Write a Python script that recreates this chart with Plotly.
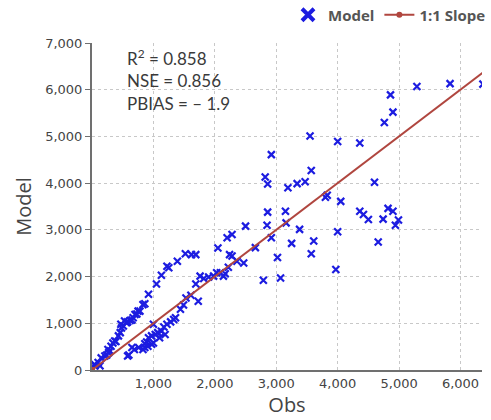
import plotly.graph_objects as go

obs = [40, 100, 130, 50, 150, 210, 240, 270, 290, 260, 310, 340, 370, 390, 430, 460, 480, 510, 470, 530,
       560, 580, 620, 650, 670, 700, 730, 750, 780, 830, 860, 920, 1050, 1130, 1220, 1250, 1390, 1520, 1620, 1690,
       580, 600, 650, 690, 760, 830, 860, 860, 890, 910, 970, 1000, 920, 970, 1030, 1070, 1130, 1100, 1190, 1170,
       1220, 1280, 1330, 1360, 1440, 1490, 1530, 1610, 1730, 1690, 1760, 1820, 1900, 1980, 2030, 2090, 2170, 2140,
       2220, 1000, 2050, 2200, 2280, 2240, 2280, 2360, 2470,
       2500, 2660, 2790, 2820, 2860, 2860, 2850, 2920, 2920, 3020, 3070, 3150, 3160, 3190, 3250, 3340, 3380, 3470,
       3550, 3570, 3570, 3610, 3800, 3830, 3970, 4000, 4000, 4050, 4360, 4360, 4420, 4500, 4600, 4660, 4740, 4760,
       4820, 4860, 4900, 4900, 4940, 4990, 5290, 5830, 6365]
model = [120, 160, 90, 90, 260, 300, 320, 370, 410, 440, 510, 580, 620, 610, 730, 800, 900, 940, 980, 1050,
         1010, 1030, 1060, 1070, 1120, 1190, 1200, 1260, 1260, 1400, 1420, 1620, 1840, 2030, 2220, 2190, 2330, 2490, 2470, 2470,
         300, 320, 480, 440, 480, 440, 480, 560, 600, 510, 550, 580, 690, 730, 760, 800, 830, 690, 760, 920,
         980, 1030, 1080, 1120, 1300, 1390, 1540, 1600, 1470, 1840, 2010, 1960, 1990, 2010, 2080, 2080, 2060, 2010,
         2200, 980, 2610, 2830, 2900, 2470, 2440, 2330, 2290,
         3080, 2620, 1920, 4130, 3980, 3380, 3100, 4610, 2830, 2410, 1970, 3400, 3150, 3900, 2710, 3990, 3010, 4030,
         5010, 4270, 2490, 2760, 3700, 3740, 2150, 4890, 2960, 3610, 4860, 3400, 3330, 3220, 4020, 2740, 3230, 5300,
         3460, 5890, 5520, 3400, 3100, 3210, 6070, 6130, 6120]

slope_x = [0, 6420]
slope_y = [0, 6420]

x_ticks = [1000, 2000, 3000, 4000, 5000, 6000]
y_ticks = [0, 1000, 2000, 3000, 4000, 5000, 6000, 7000]

stats_lines = ["R<sup>2</sup> = 0.858", "NSE = 0.856", "PBIAS = \u2013 1.9"]

BLUE = "#1c1ce0"
RED = "#b0463f"

fig = go.Figure()
fig.add_trace(go.Scatter(
    x=obs, y=model, mode="markers", name="Model", showlegend=False,
    marker=dict(symbol="x-thin", size=7, line=dict(color=BLUE, width=2.2), color=BLUE),
))
fig.add_trace(go.Scatter(
    x=slope_x, y=slope_y, mode="lines+markers", name="1:1 Slope", showlegend=False,
    line=dict(color=RED, width=2), marker=dict(symbol="square", size=6, color=RED),
))
# legend entries
fig.add_trace(go.Scatter(
    x=[None], y=[None], mode="markers", name="Model",
    marker=dict(symbol="x-thin", size=12, line=dict(color=BLUE, width=4), color=BLUE),
))
fig.add_trace(go.Scatter(
    x=[None], y=[None], mode="lines+markers", name="1:1 Slope",
    line=dict(color=RED, width=2), marker=dict(symbol="circle", size=6, color=RED),
))

ys = [0.955, 0.885, 0.815]
for t, yy in zip(stats_lines, ys):
    fig.add_annotation(
        text=t, xref="paper", yref="paper", x=0.085, y=yy, xanchor="left", yanchor="middle",
        showarrow=False, font=dict(family="Lato", size=17, color="#3a3a3a"),
    )

fig.update_layout(
    width=491, height=420,
    margin=dict(l=92, r=9, t=43, b=50, autoexpand=False),
    paper_bgcolor="white", plot_bgcolor="white",
    showlegend=True,
    legend=dict(
        orientation="h", x=1.0, xanchor="right", xref="container",
        y=(420 - 15) / 420, yanchor="middle", yref="container",
        font=dict(family="Open Sans", size=15, color="#555555", weight="bold"),
        bgcolor="rgba(0,0,0,0)", itemwidth=30, tracegroupgap=0,
    ),
    xaxis=dict(
        range=[0, 6350], tickvals=x_ticks, tickformat=",d",
        showgrid=True, gridcolor="#c8c8c8", griddash="dot", gridwidth=1,
        zeroline=False, showline=True, linecolor="#707070", linewidth=2,
        ticks="", tickfont=dict(family="DejaVu Sans", size=13, color="#444444"),
        title=dict(text="Obs", font=dict(family="Open Sans", size=20, color="#444444"), standoff=4),
    ),
    yaxis=dict(
        range=[0, 7000], tickvals=y_ticks, tickformat=",d",
        showgrid=True, gridcolor="#c8c8c8", griddash="dot", gridwidth=1,
        zeroline=False, showline=True, linecolor="#707070", linewidth=2,
        ticks="outside", ticklen=5, tickcolor="#707070",
        tickfont=dict(family="DejaVu Sans", size=13, color="#444444"),
        title=dict(text="Model", font=dict(family="Open Sans", size=20, color="#444444"), standoff=8),
    ),
)

fig.write_html("out.html")
